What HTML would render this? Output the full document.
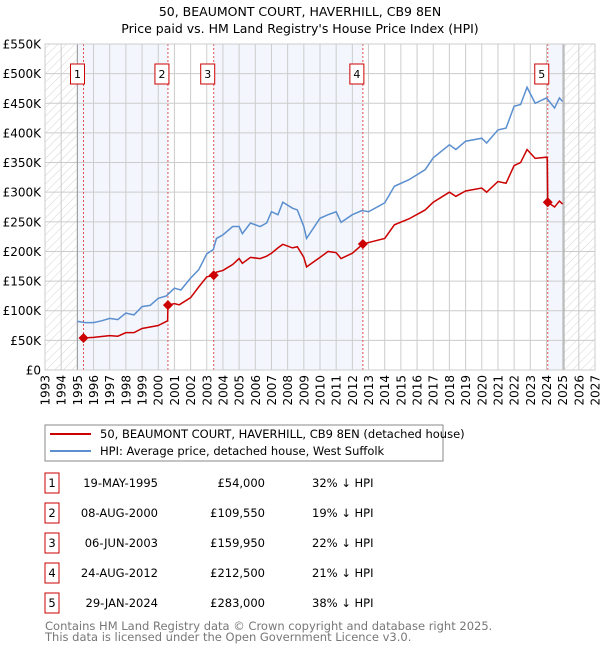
<!DOCTYPE html>
<html><head><meta charset="utf-8"><style>
body{margin:0;background:#fff;font-family:"DejaVu Sans","Liberation Sans",sans-serif;}
svg text{font-family:"DejaVu Sans","Liberation Sans",sans-serif;}
</style></head><body>
<svg id="c" width="600" height="650" xmlns="http://www.w3.org/2000/svg">
<defs><pattern id="h" width="6" height="6" patternUnits="userSpaceOnUse" patternTransform="rotate(45)"><line x1="0" y1="0" x2="0" y2="6" stroke="#d4d4d4" stroke-width="1"/></pattern></defs>
<text x="300" y="16" text-anchor="middle" font-size="12.5">50, BEAUMONT COURT, HAVERHILL, CB9 8EN</text>
<text x="300" y="33" text-anchor="middle" font-size="12.5">Price paid vs. HM Land Registry's House Price Index (HPI)</text>
<g id="plot"></g>
<rect x="45" y="425" width="398" height="36" fill="#fff" stroke="#888"/>
<line x1="50" y1="434" x2="91" y2="434" stroke="#cc0000" stroke-width="2"/>
<text x="100" y="438" font-size="11.5">50, BEAUMONT COURT, HAVERHILL, CB9 8EN (detached house)</text>
<line x1="50" y1="451" x2="91" y2="451" stroke="#5b8fd0" stroke-width="2"/>
<text x="100" y="455" font-size="11.5">HPI: Average price, detached house, West Suffolk</text>
<g id="tbl"></g>
<text x="45" y="630" font-size="11.5" fill="#777">Contains HM Land Registry data © Crown copyright and database right 2025.</text>
<text x="45" y="641" font-size="11.5" fill="#777">This data is licensed under the Open Government Licence v3.0.</text>
</svg>
<script>
const hpiYears=[1995.0,1995.5,1996,1996.5,1997,1997.5,1998,1998.5,1999,1999.5,2000,2000.5,2001,2001.4,2002,2002.5,2003,2003.4,2003.6,2004,2004.6,2005,2005.2,2005.7,2006.3,2006.7,2007,2007.4,2007.7,2008.3,2008.6,2009,2009.17,2010,2010.5,2011,2011.3,2012,2012.6,2013,2014,2014.6,2015.5,2016.5,2017,2018,2018.4,2019,2020,2020.3,2021,2021.5,2022,2022.4,2022.8,2023.3,2024,2024.5,2024.8,2025];
const hpiValues=[82,80,80,83,87,85,96,93,107,109,121,125,138,135,155,169,196,203,222,228,242,242,230,248,242,248,267,262,283,273,270,242,222,256,262,267,249,262,269,267,282,310,321,338,358,380,372,386,391,383,405,408,445,448,477,450,459,442,459,453];
const priceYears=[1995.38,1996,1997,1997.5,1998,1998.5,1999,2000,2000.5,2000.58,2000.6,2001,2001.3,2002,2002.5,2003,2003.43,2003.6,2004,2004.6,2005,2005.2,2005.7,2006.3,2006.7,2007,2007.4,2007.7,2008.3,2008.6,2009,2009.17,2010,2010.5,2011,2011.3,2012,2012.65,2013,2014,2014.6,2015.5,2016.5,2017,2018,2018.4,2019,2020,2020.3,2021,2021.5,2022,2022.4,2022.8,2023.3,2024.0,2024.05,2024.08,2024.5,2024.8,2025];
const priceValues=[54,55,58,57,63,63,70,75,82,83,109.55,112,110,122,140,157,159.95,165,168,178,188,180,190,188,192,197,206,212,206,208,190,174,190,200,198,188,197,212.5,215,222,245,255,270,283,300,293,302,307,300,318,315,345,350,372,357,359,358,283,275,285,280];
const saleYears=[1995.38,2000.60,2003.43,2012.65,2024.08];
const saleValues=[54,109.55,159.95,212.5,283];
const saleLabels=["1","2","3","4","5"];
const saleDates=["19-MAY-1995","08-AUG-2000","06-JUN-2003","24-AUG-2012","29-JAN-2024"];
const salePrices=["£54,000","£109,550","£159,950","£212,500","£283,000"];
const saleDiffs=["32% ↓ HPI","19% ↓ HPI","22% ↓ HPI","21% ↓ HPI","38% ↓ HPI"];
const yTicks=[0,50,100,150,200,250,300,350,400,450,500,550];
const yTickLabels=["£0","£50K","£100K","£150K","£200K","£250K","£300K","£350K","£400K","£450K","£500K","£550K"];
const xTicks=[1993,1994,1995,1996,1997,1998,1999,2000,2001,2002,2003,2004,2005,2006,2007,2008,2009,2010,2011,2012,2013,2014,2015,2016,2017,2018,2019,2020,2021,2022,2023,2024,2025,2026,2027];

const X0=45,X1=595,Y0=370,Y1=44;
const x=v=>X0+(v-1993)/(2027-1993)*(X1-X0);
const y=v=>Y0-v/550*(Y0-Y1);
const NS="http://www.w3.org/2000/svg";
const plot=document.getElementById('plot');
function mk(tag,attrs,parent){const e=document.createElementNS(NS,tag);for(const k in attrs)e.setAttribute(k,attrs[k]);(parent||plot).appendChild(e);return e;}

let e;
e=mk('rect',{x:X0,y:Y1,width:X1-X0,height:Y0-Y1,fill:'#fff'});


const bands=[[1995.0,saleYears[1]],[saleYears[2],saleYears[3]],[saleYears[4],2025.08]];
bands.forEach(b=>{
 e=mk('rect',{x:x(b[0]),y:Y1,width:x(b[1])-x(b[0]),height:Y0-Y1,fill:'#f3f6fd'});
 
 
});
e=mk('rect',{x:X0,y:Y1,width:x(1995)-X0,height:Y0-Y1,fill:'url(#h)'});


e=mk('rect',{x:x(2025.08),y:Y1,width:X1-x(2025.08),height:Y0-Y1,fill:'url(#h)'});


yTicks.forEach((t,i)=>{
 e=mk('line',{x1:X0,x2:X1,y1:y(t),y2:y(t),stroke:'#ccc','stroke-width':1});
 
 
 e=mk('text',{x:X0-4,y:y(t)+4.5,'text-anchor':'end','font-size':12});
 e.textContent=yTickLabels[i];
 
 
});
xTicks.forEach(t=>{
 e=mk('line',{x1:x(t),x2:x(t),y1:Y1,y2:Y0,stroke:'#ccc','stroke-width':1});
 
 
 e=mk('text',{x:0,y:0,'text-anchor':'end','font-size':12,transform:`translate(${x(t)+4.5},${Y0+5}) rotate(-90)`});
 e.textContent=t;
 
 
});
e=mk('line',{x1:x(1995),x2:x(1995),y1:Y1,y2:Y0,stroke:'#999','stroke-width':1});


e=mk('line',{x1:x(2025.08),x2:x(2025.08),y1:Y1,y2:Y0,stroke:'#999','stroke-width':1});


saleYears.forEach((s,i)=>{
 e=mk('line',{x1:x(s),x2:x(s),y1:Y1,y2:Y0,stroke:'#e05050','stroke-width':1,'stroke-dasharray':'2,2'});
 
 
});
e=mk('polyline',{points:hpiYears.map((t,i)=>x(t)+','+y(hpiValues[i])).join(' '),fill:'none',stroke:'#5b8fd0','stroke-width':1.5});


e=mk('polyline',{points:priceYears.map((t,i)=>x(t)+','+y(priceValues[i])).join(' '),fill:'none',stroke:'#cc0000','stroke-width':1.5});


saleYears.forEach((s,i)=>{
 const cx=x(s),cy=y(saleValues[i]);
 e=mk('polygon',{points:`${cx},${cy-5} ${cx+5},${cy} ${cx},${cy+5} ${cx-5},${cy}`,fill:'#cc0000'});
 
 
 e=mk('rect',{x:cx-7-6,y:64,width:14,height:20,fill:'#fff',stroke:'#cc0000'});
 
 
 e=mk('text',{x:cx-6,y:78,'text-anchor':'middle','font-size':11});
 e.textContent=saleLabels[i];
 
 
});
e=mk('rect',{x:X0,y:Y1,width:X1-X0,height:Y0-Y1,fill:'none',stroke:'#ccc'});


const tbl=document.getElementById('tbl');
saleLabels.forEach((l,i)=>{
 const cy=483+i*30;
 e=mk('rect',{x:45,y:cy-10,width:14,height:20,fill:'#fff',stroke:'#cc0000'},tbl);
 
 
 e=mk('text',{x:52,y:cy+4,'text-anchor':'middle','font-size':11.5},tbl);
 e.textContent=l;
 
 
 e=mk('text',{x:158,y:cy+4,'text-anchor':'end','font-size':11.5},tbl);
 e.textContent=saleDates[i];
 
 
 e=mk('text',{x:265,y:cy+4,'text-anchor':'end','font-size':11.5},tbl);
 e.textContent=salePrices[i];
 
 
 e=mk('text',{x:312,y:cy+4,'font-size':11.5},tbl);
 e.textContent=saleDiffs[i];
 
 
});
</script>
</body></html>
